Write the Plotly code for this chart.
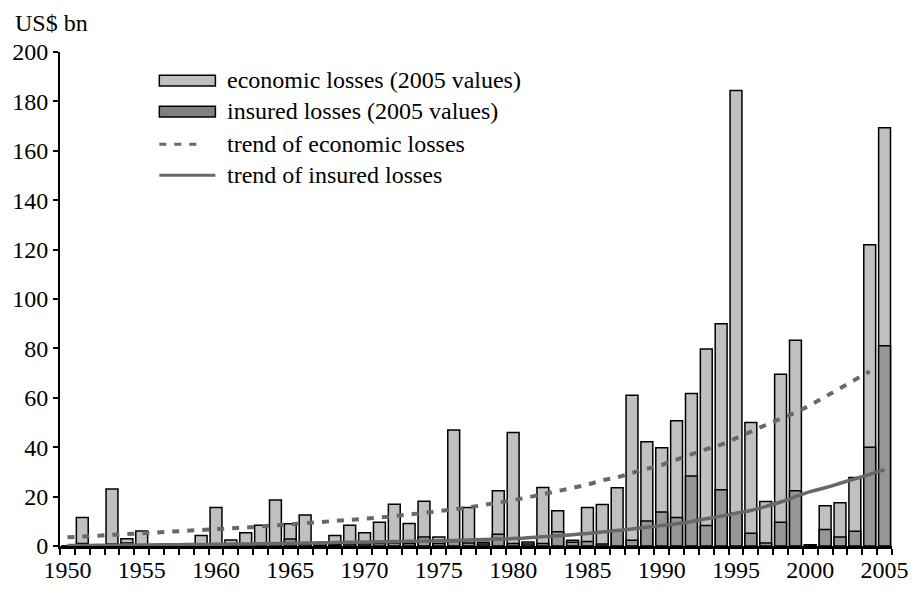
import plotly.graph_objects as go

years = list(range(1950, 2006))

economic_losses = [
    0, 11.5, 0, 23.1, 2.9, 6.1, 0, 0, 0, 4.3,
    15.6, 2.4, 5.4, 8.4, 18.6, 9.0, 12.6, 1.0, 4.3, 8.4,
    5.4, 9.6, 16.9, 9.1, 18.1, 3.6, 47.0, 15.6, 1.5, 22.4,
    46.0, 1.6, 23.7, 14.3, 2.3, 15.6, 16.8, 23.6, 61.0, 42.2,
    39.8, 50.7, 61.7, 79.8, 90.0, 184.4, 50.0, 18.0, 69.5, 83.3,
    0.5, 16.3, 17.5, 27.7, 122.0, 169.3,
]

insured_losses = [
    0, 1.0, 0, 0.8, 1.2, 0.5, 0, 0, 0, 0.3,
    0.5, 0.3, 0.5, 0.5, 0.8, 2.8, 0.8, 0.3, 0.5, 0.8,
    0.8, 1.0, 1.2, 1.0, 3.6, 1.0, 1.8, 1.2, 0.8, 4.8,
    1.0, 0.8, 1.0, 5.8, 1.5, 1.8, 0.8, 6.6, 2.3, 10.1,
    13.8, 11.5, 28.3, 8.3, 22.8, 13.3, 5.2, 1.2, 9.6, 22.4,
    0.3, 6.7, 3.6, 6.0, 40.0, 81.1,
]

trend_years_econ = list(range(1950, 2005))
trend_economic = [
    3.5, 3.8, 4.2, 4.5, 4.9, 5.2, 5.6, 5.9, 6.2, 6.5,
    6.8, 7.2, 7.5, 7.9, 8.3, 8.7, 9.1, 9.5, 10.0, 10.5,
    11.0, 11.5, 12.1, 12.7, 13.3, 14.0, 14.8, 15.6, 16.5, 17.4,
    18.6, 19.7, 21.0, 22.2, 23.5, 24.8, 26.6, 27.8, 29.6, 31.0,
    32.8, 35.0, 37.2, 39.2, 41.0, 43.5, 46.3, 49.0, 51.5, 54.0,
    57.0, 60.5, 64.0, 67.5, 70.7,
]

trend_years_ins = list(range(1950, 2006))
trend_insured = [
    0.2, 0.2, 0.3, 0.3, 0.4, 0.4, 0.5, 0.5, 0.6, 0.6,
    0.7, 0.8, 0.8, 0.9, 1.0, 1.1, 1.2, 1.3, 1.4, 1.5,
    1.6, 1.7, 1.8, 1.9, 2.0, 2.1, 2.2, 2.4, 2.6, 2.8,
    3.0, 3.3, 3.7, 4.1, 4.6, 5.1, 5.7, 6.3, 6.9, 7.6,
    8.3, 9.0, 9.9, 11.0, 12.1, 13.3, 14.4, 16.0, 17.8, 20.0,
    22.0, 23.6, 25.4, 27.2, 29.0, 30.9,
]

x_tick_labels = list(range(1950, 2006, 5))
y_ticks = list(range(0, 201, 20))

legend_labels = [
    "economic losses (2005 values)",
    "insured losses (2005 values)",
    "trend of economic losses",
    "trend of insured losses",
]

FONT = "Times New Roman, Liberation Serif, Times, serif"
FS = 24
ECON_COLOR = "#c0c0c0"
INS_COLOR = "#969696"
TREND_COLOR = "#686868"

fig = go.Figure()
fig.add_trace(go.Bar(x=years, y=economic_losses, width=0.8,
                     marker=dict(color=ECON_COLOR, line=dict(color="#000000", width=1.5)),
                     name=legend_labels[0]))
fig.add_trace(go.Bar(x=years, y=insured_losses, width=0.8,
                     marker=dict(color=INS_COLOR, line=dict(color="#000000", width=1.5)),
                     name=legend_labels[1]))
fig.add_trace(go.Scatter(x=trend_years_econ, y=trend_economic, mode="lines",
                         line=dict(color=TREND_COLOR, width=4, dash="7px,8px"),
                         name=legend_labels[2]))
fig.add_trace(go.Scatter(x=trend_years_ins, y=trend_insured, mode="lines",
                         line=dict(color=TREND_COLOR, width=3.5, shape="spline"),
                         name=legend_labels[3]))

W, H = 920, 595
L, R, T, B = 57, 17, 52, 34
pw, ph = W - L - R, H - T - B

def px(xp):
    return (xp - L) / pw

def py(yp):
    return (H - B - yp) / ph

shapes = [
    dict(type="rect", xref="paper", yref="paper", x0=px(158), x1=px(215), y0=py(87), y1=py(76),
         fillcolor=ECON_COLOR, line=dict(color="#000000", width=1.5)),
    dict(type="rect", xref="paper", yref="paper", x0=px(158), x1=px(215), y0=py(119), y1=py(108),
         fillcolor="#808080", line=dict(color="#000000", width=1.5)),
    dict(type="line", xref="paper", yref="paper", x0=px(158), x1=px(200), y0=py(147), y1=py(147),
         line=dict(color=TREND_COLOR, width=3, dash="7px,8px")),
    dict(type="line", xref="paper", yref="paper", x0=px(158), x1=px(215), y0=py(179), y1=py(179),
         line=dict(color=TREND_COLOR, width=3)),
]

annotations = [
    dict(text="US$ bn", xref="paper", yref="paper", x=px(9), y=py(22), xanchor="left",
         yanchor="middle", showarrow=False, font=dict(size=FS, family=FONT, color="#000000")),
]
for label, yy in zip(legend_labels, [81, 113, 147, 179]):
    annotations.append(dict(text=label, xref="paper", yref="paper", x=px(225), y=py(yy),
                            xanchor="left", yanchor="middle", showarrow=False,
                            font=dict(size=FS, family=FONT, color="#000000")))

fig.update_layout(
    width=W, height=H,
    margin=dict(l=L, r=R, t=T, b=B),
    paper_bgcolor="#ffffff", plot_bgcolor="#ffffff",
    barmode="overlay",
    showlegend=False,
    font=dict(family=FONT, size=FS, color="#000000"),
    shapes=shapes,
    annotations=annotations,
)
fig.update_xaxes(
    range=[1949.5, 2005.5],
    tickmode="array", tickvals=x_tick_labels, ticktext=[str(v) for v in x_tick_labels],
    ticks="", showgrid=False, zeroline=False,
    showline=True, linecolor="#000000", linewidth=3,
    minor=dict(tick0=1949.5, dtick=1, ticks="outside", ticklen=6, tickcolor="#000000",
               tickwidth=1.5, showgrid=False),
    tickfont=dict(size=FS, family=FONT, color="#000000"),
)
fig.update_yaxes(
    range=[0, 200],
    tickmode="array", tickvals=y_ticks,
    ticks="outside", ticklen=5, tickwidth=1.5, tickcolor="#000000",
    showgrid=False, zeroline=False,
    showline=True, linecolor="#000000", linewidth=2,
    tickfont=dict(size=FS, family=FONT, color="#000000"),
)

fig.write_html(
    "out.html",
    config={"displayModeBar": False},
    post_script="document.body.style.margin='0';document.body.style.overflow='hidden';",
)
